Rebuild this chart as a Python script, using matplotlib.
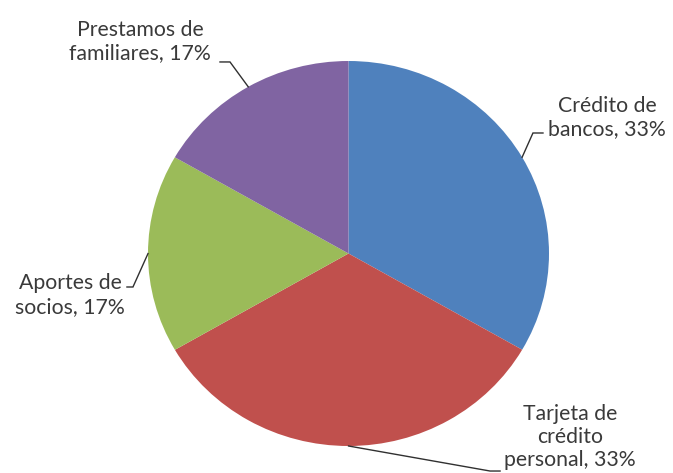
import matplotlib.pyplot as plt
import numpy as np

# Data
labels = ["Crédito de\nbancos, 33%", "Tarjeta de\ncrédito\npersonal, 33%",
          "Aportes de\nsocios, 17%", "Prestamos de\nfamiliares, 17%"]
shares = [33.33, 33.33, 16.67, 16.67]
colors = ["#4F81BD", "#C0504D", "#9BBB59", "#8064A2"]

# label layout (data coords of the unit pie): text centre, elbow, line end
text_pos = [(1.289, 0.705), (1.105, -0.953), (-1.389, -0.216), (-1.040, 1.103)]
elbows = [(0.92, 0.626), (0.706, -1.13), (-1.075, -0.174), (-0.591, 0.995)]
ends = [(0.970, 0.626), (0.756, -1.13), (-1.105, -0.174), (-0.641, 0.995)]

fig = plt.figure(figsize=(6.73, 4.73), dpi=100)
W, H = 673, 473
# pie is slightly wider than tall in the reference
ax = fig.add_axes([148 / W, (H - 446) / H, 401 / W, 385 / H])

wedges, _ = ax.pie(shares, colors=colors, startangle=90, counterclock=False,
                   radius=1.0)
ax.set_aspect('auto')
ax.set_xlim(-1, 1)
ax.set_ylim(-1, 1)
ax.axis('off')

for w, lab, tp, el, en in zip(wedges, labels, text_pos, elbows, ends):
    mid = np.deg2rad((w.theta1 + w.theta2) / 2)
    sx, sy = np.cos(mid), np.sin(mid)
    ax.plot([sx, el[0], en[0]], [sy, el[1], en[1]], color='#303030', lw=1.0,
            clip_on=False, solid_joinstyle='miter')
    ax.text(tp[0], tp[1], lab, ha='center', va='center', multialignment='center',
            fontsize=15.3, family='Lato', color='#3a3a3a', linespacing=1.2,
            clip_on=False)

plt.savefig("out.png", dpi=100)
